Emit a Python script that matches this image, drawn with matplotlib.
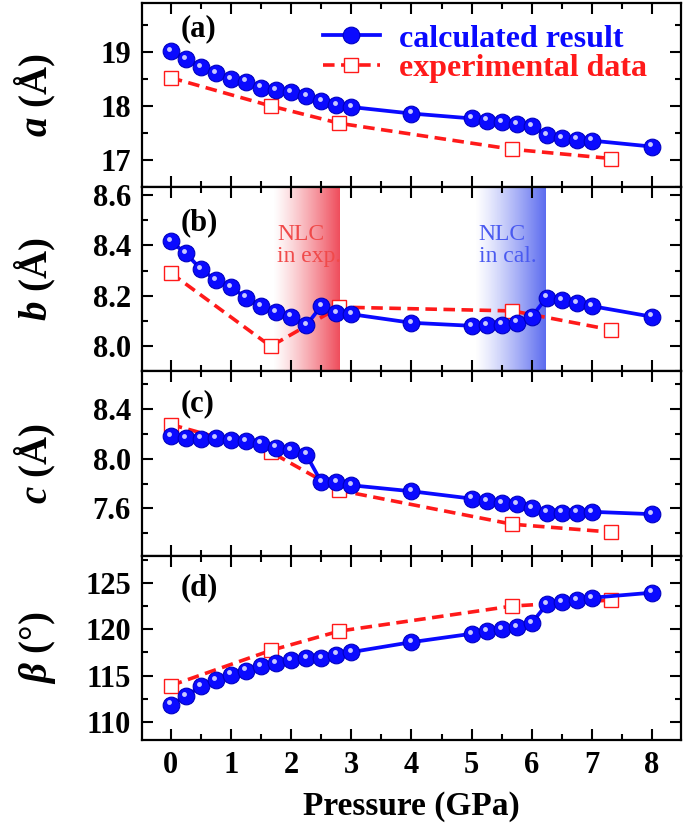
import numpy as np
import matplotlib
matplotlib.use('Agg')
import matplotlib.pyplot as plt
from matplotlib.ticker import MultipleLocator, FormatStrFormatter
from matplotlib.transforms import ScaledTranslation

# pressure points (GPa)
p_cal = [0, 0.25, 0.5, 0.75, 1.0, 1.25, 1.5, 1.75, 2.0, 2.25, 2.5, 2.75, 3.0,
         4.0, 5.0, 5.25, 5.5, 5.75, 6.0, 6.25, 6.5, 6.75, 7.0, 8.0]
p_exp = [0, 1.66, 2.8, 5.68, 7.32]

a_cal = [19.01, 18.87, 18.72, 18.61, 18.50, 18.45, 18.34, 18.29, 18.25, 18.18,
         18.09, 18.02, 17.98, 17.86, 17.77, 17.73, 17.70, 17.66, 17.63, 17.46,
         17.41, 17.38, 17.36, 17.25]
a_exp = [18.52, 18.00, 17.68, 17.20, 17.03]

b_cal = [8.415, 8.368, 8.305, 8.262, 8.233, 8.193, 8.159, 8.136, 8.117, 8.083,
         8.159, 8.132, 8.127, 8.093, 8.081, 8.083, 8.086, 8.094, 8.117, 8.193,
         8.183, 8.170, 8.159, 8.117]
b_exp = [8.29, 8.00, 8.155, 8.14, 8.065]

c_cal = [8.178, 8.166, 8.160, 8.166, 8.147, 8.139, 8.120, 8.088, 8.067, 8.032,
         7.813, 7.813, 7.786, 7.738, 7.679, 7.661, 7.640, 7.632, 7.605, 7.567,
         7.567, 7.567, 7.573, 7.554]
c_exp = [8.274, 8.053, 7.745, 7.473, 7.41]

beta_cal = [111.85, 112.75, 113.84, 114.49, 115.10, 115.54, 116.01, 116.38,
            116.67, 116.92, 116.92, 117.28, 117.54, 118.62, 119.53, 119.82,
            120.00, 120.29, 120.72, 122.72, 122.97, 123.19, 123.44, 123.99]
beta_exp = [113.91, 117.72, 119.82, 122.54, 123.19]

nlc_exp = (1.70, 2.81)
nlc_cal = (5.06, 6.24)

plt.rcParams['font.family'] = ['Liberation Serif', 'DejaVu Serif']
plt.rcParams['font.weight'] = 'bold'
plt.rcParams['axes.labelweight'] = 'bold'
plt.rcParams['mathtext.fontset'] = 'custom'
plt.rcParams['mathtext.it'] = 'Liberation Serif:italic:bold'
plt.rcParams['mathtext.rm'] = 'Liberation Serif:bold'

BLUE = '#0a0aff'
RED = '#ff1a1a'

fig, axs = plt.subplots(4, 1, figsize=(6.85, 8.27), dpi=100, sharex=True)
fig.subplots_adjust(left=0.2073, right=0.994, top=0.9964, bottom=0.1052, hspace=0)

panels = [
    (a_cal, a_exp, (16.5, 19.9), 1.0, 0.5, '%d', r'$a$ (Å)', '(a)', 0.86),
    (b_cal, b_exp, (7.90, 8.63), 0.2, 0.1, '%.1f', r'$b$ (Å)', '(b)', 0.81),
    (c_cal, c_exp, (7.22, 8.70), 0.4, 0.2, '%.1f', r'$c$ (Å)', '(c)', 0.825),
    (beta_cal, beta_exp, (108.0, 128.0), 5, 2.5, '%d', r'$\beta$ (°)', '(d)', 0.825),
]

hl_off = ScaledTranslation(-1.2 / 72, 1.6 / 72, fig.dpi_scale_trans)

for ax, (cal, exp, ylim, maj, mnr, fmt, ylab, tag, ty) in zip(axs, panels):
    ax.plot(p_exp, exp, ls=(0, (3.2, 1.8)), lw=2.6, color=RED, marker='s',
            ms=10, mfc='white', mec=RED, mew=1.0, zorder=2)
    ax.plot(p_cal, cal, '-', lw=2.7, color=BLUE, marker='o', ms=12,
            mfc=BLUE, mec='#0000c0', mew=0.8, zorder=3)
    ax.plot(p_cal, cal, 'o', ms=3.5, color='#c8c8ff', mec='none',
            transform=ax.transData + hl_off, zorder=4)
    ax.set_ylim(*ylim)
    ax.set_xlim(-0.48, 8.48)
    ax.yaxis.set_major_locator(MultipleLocator(maj))
    ax.yaxis.set_minor_locator(MultipleLocator(mnr))
    ax.yaxis.set_major_formatter(FormatStrFormatter(fmt))
    ax.xaxis.set_major_locator(MultipleLocator(1))
    ax.xaxis.set_minor_locator(MultipleLocator(0.5))
    ax.tick_params(which='both', direction='in', top=True, right=True,
                   width=1.5, labelsize=22)
    ax.tick_params(which='major', length=8, pad=8)
    ax.tick_params(which='minor', length=4.5)
    for s in ax.spines.values():
        s.set_linewidth(1.6)
    ax.set_ylabel(ylab, fontsize=28)
    ax.yaxis.set_label_coords(-0.155, 0.5)
    ax.text(0.072, ty, tag, transform=ax.transAxes, fontsize=22,
            ha='left', va='center')

# gradient shading for NLC regions in panel (b)
axb = axs[1]
grad = np.linspace(0, 1, 256).reshape(1, -1)
for (x0, x1), rgb in [(nlc_exp, (0.94, 0.30, 0.36)), (nlc_cal, (0.36, 0.42, 0.94))]:
    img = np.zeros((1, 256, 4))
    img[..., 0], img[..., 1], img[..., 2] = rgb
    img[..., 3] = grad ** 1.2
    axb.imshow(img, extent=[x0, x1, *axb.get_ylim()], aspect='auto',
               origin='lower', zorder=0.5, interpolation='bilinear')
axb.set_xlim(-0.48, 8.48)
axb.set_ylim(7.90, 8.63)
axb.text(1.77, 8.40, 'NLC\nin exp.', color='#f04a4a', fontsize=17,
         fontweight='normal', ha='left', va='center', linespacing=1.05, zorder=1)
axb.text(5.12, 8.40, 'NLC\nin cal.', color='#4a5af0', fontsize=17,
         fontweight='normal', ha='left', va='center', linespacing=1.05, zorder=1)

# legend in panel (a)
h = axs[0].get_lines()
axs[0].legend([h[1], h[0]], ['calculated result', 'experimental data'],
              loc='upper left', bbox_to_anchor=(0.335, 0.885), frameon=False,
              fontsize=23, handlelength=1.8, handletextpad=0.6,
              labelspacing=0.0, borderpad=0, borderaxespad=0)
leg = axs[0].get_legend()
for t, c in zip(leg.get_texts(), [BLUE, RED]):
    t.set_color(c)

axs[-1].set_xlabel('Pressure (GPa)', fontsize=24, labelpad=8)

fig.savefig('out.png', dpi=100)
